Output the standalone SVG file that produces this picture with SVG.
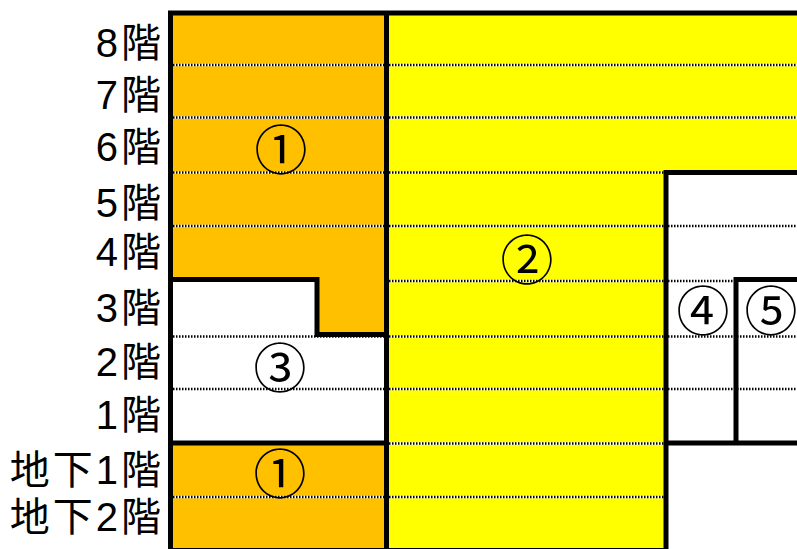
<svg xmlns="http://www.w3.org/2000/svg" width="797" height="549" viewBox="0 0 797 549">
<style>
.lbl{font-family:"Liberation Sans","Noto Sans CJK JP",sans-serif;font-size:40px;letter-spacing:3px;fill:#000;text-anchor:end}
.num{font-family:"Noto Sans CJK JP",sans-serif;font-size:53px;fill:#000;text-anchor:middle;dominant-baseline:central}
.dotw{stroke:#fff;stroke-width:2.5;fill:none}
.dotb{stroke:#000;stroke-width:2.5;stroke-dasharray:1.5 1.5;fill:none}
.thick{stroke:#000;stroke-width:5;fill:none;stroke-linecap:square}
</style>
<rect width="797" height="549" fill="#fff"/>
<g id="labels">
<text class="lbl" x="164" y="57">8階</text>
<text class="lbl" x="164" y="109">7階</text>
<text class="lbl" x="164" y="161">6階</text>
<text class="lbl" x="164" y="217">5階</text>
<text class="lbl" x="164" y="266">4階</text>
<text class="lbl" x="164" y="322">3階</text>
<text class="lbl" x="164" y="376">2階</text>
<text class="lbl" x="164" y="429">1階</text>
<text class="lbl" x="164" y="484">地下1階</text>
<text class="lbl" x="164" y="531">地下2階</text>
</g>
<g id="area1-upper">
<polygon points="170,13 386,13 386,334.5 317,334.5 317,279.5 170,279.5" fill="#FFC000"/>
</g>
<g id="area1-lower">
<rect x="170" y="443" width="216" height="106" fill="#FFC000"/>
</g>
<g id="area2">
<polygon points="386,13 797,13 797,172.5 666,172.5 666,549 386,549" fill="#FFFF00"/>
</g>
<g id="floor-lines">
<path class="dotw" d="M170,65H797M170,117.5H797M170,172.5H666M170,226H797M386,281H736M170,336.5H797M170,389H797M386,443.5H666M170,497H666"/>
<path class="dotb" d="M170,65H797M170,117.5H797M170,172.5H666M170,226H797M386,281H736M170,336.5H797M170,389H797M386,443.5H666M170,497H666"/>
</g>
<g id="connectors">
<path class="thick" d="M170.5,13H797M170.5,13V549M386.5,13V549M666,172.5V549M666,172.5H797M736,279.5V443M736,279.5H797M666,443H797M170.5,279.5H317M317,279.5V334.5H386.5M170.5,443H386.5M170.5,550.5H666"/>
</g>
<g id="area3"><text class="num" x="280" y="365">③</text></g>
<g id="area4"><text class="num" x="703" y="308">④</text></g>
<g id="area5"><text class="num" x="771" y="308">⑤</text></g>
<g id="area1-labels">
<text class="num" x="281" y="147">①</text>
<text class="num" x="280" y="471">①</text>
</g>
<g id="area2-label"><text class="num" x="527" y="257">②</text></g>
</svg>
